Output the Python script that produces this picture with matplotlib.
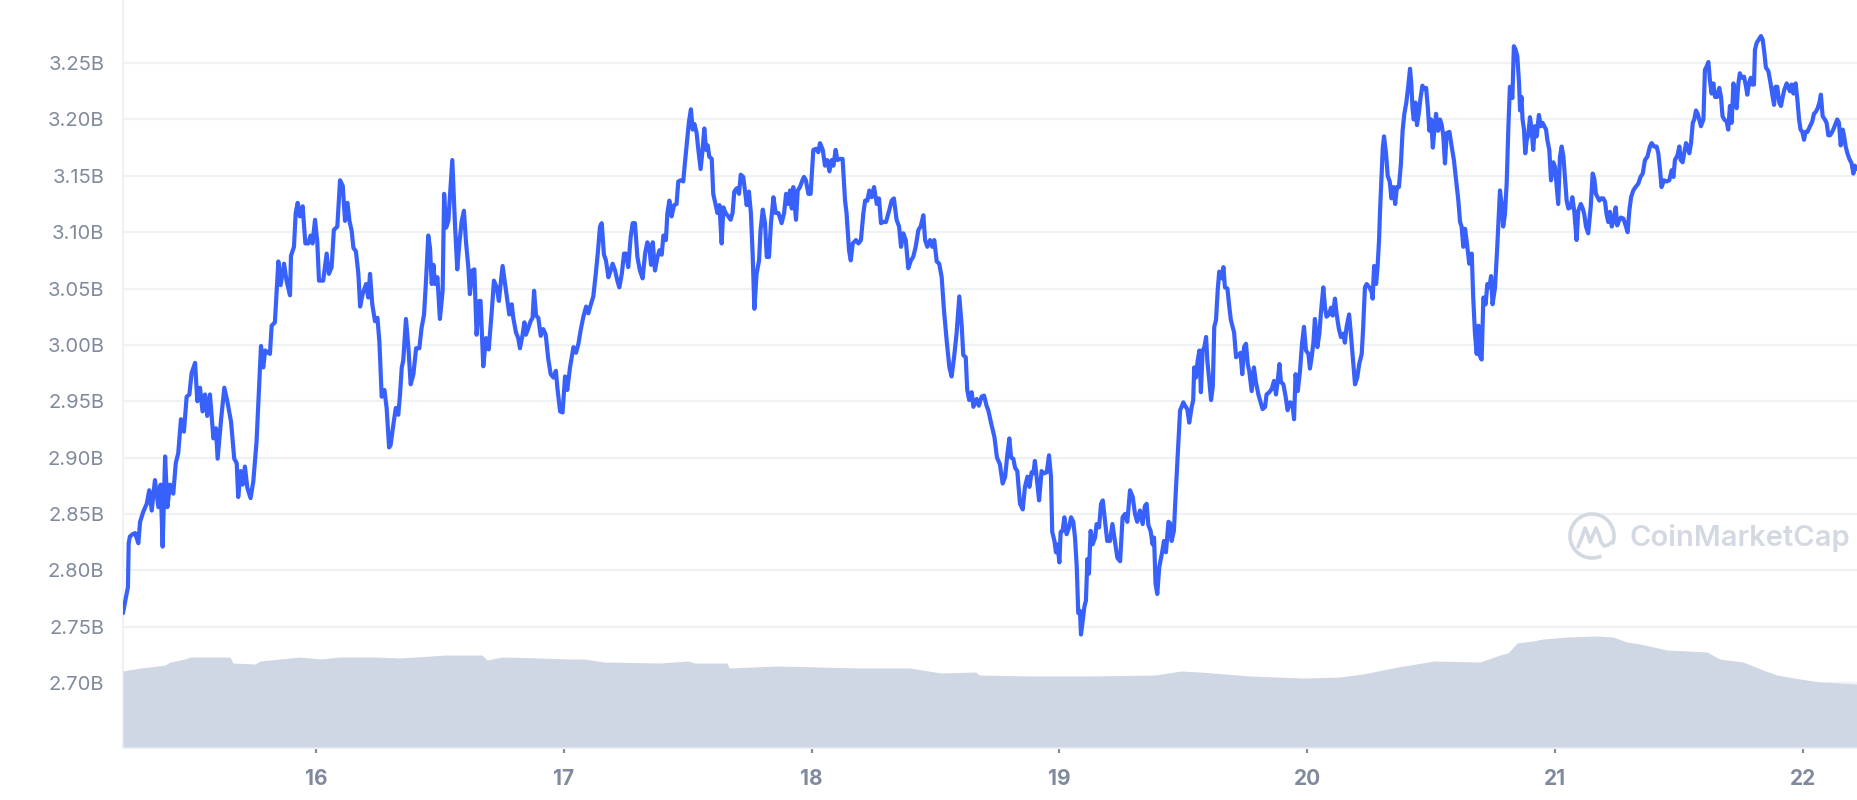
import matplotlib
matplotlib.use("Agg")
import matplotlib.pyplot as plt
from matplotlib.patches import Arc

plt.rcParams['font.family'] = ['Inter', 'DejaVu Sans']

# ---------------- data ----------------
x_ticks = [16, 17, 18, 19, 20, 21, 22]
x_tick_labels = ['16', '17', '18', '19', '20', '21', '22']
y_ticks = [2.70, 2.75, 2.80, 2.85, 2.90, 2.95, 3.00, 3.05, 3.10, 3.15, 3.20, 3.25]
y_tick_labels = ['2.70B', '2.75B', '2.80B', '2.85B', '2.90B', '2.95B',
                 '3.00B', '3.05B', '3.10B', '3.15B', '3.20B', '3.25B']

# market cap (billions USD), (day of month, value)
cap_day15 = [
    (15.221, 2.762), (15.232, 2.775), (15.241, 2.785), (15.244, 2.824), (15.249, 2.830),
    (15.260, 2.832), (15.270, 2.833), (15.283, 2.824), (15.290, 2.843), (15.303, 2.852),
    (15.317, 2.859), (15.327, 2.871), (15.337, 2.853), (15.350, 2.880), (15.364, 2.856),
    (15.373, 2.876), (15.381, 2.821), (15.391, 2.901), (15.400, 2.856), (15.411, 2.876),
    (15.424, 2.868), (15.434, 2.895), (15.444, 2.904), (15.455, 2.934), (15.467, 2.923),
    (15.478, 2.954), (15.489, 2.956), (15.498, 2.975), (15.512, 2.984), (15.521, 2.950),
    (15.532, 2.962), (15.542, 2.941), (15.552, 2.956), (15.561, 2.937), (15.572, 2.956),
    (15.586, 2.917), (15.596, 2.926), (15.603, 2.899), (15.617, 2.934), (15.630, 2.962),
    (15.642, 2.950), (15.657, 2.932), (15.670, 2.899), (15.680, 2.895), (15.686, 2.865),
    (15.696, 2.888), (15.704, 2.876), (15.713, 2.892), (15.723, 2.873), (15.736, 2.864),
    (15.747, 2.879), (15.760, 2.914), (15.774, 2.980), (15.778, 2.999), (15.787, 2.980),
    (15.795, 2.995), (15.814, 2.992), (15.821, 3.017), (15.834, 3.020), (15.848, 3.074),
    (15.857, 3.053), (15.871, 3.072), (15.881, 3.057), (15.895, 3.044), (15.899, 3.079),
    (15.911, 3.087), (15.918, 3.117), (15.926, 3.126), (15.935, 3.114), (15.946, 3.123),
    (15.957, 3.090), (15.969, 3.090), (15.978, 3.097), (15.986, 3.090), (15.996, 3.111),
]
cap_day16 = [
    (16.005, 3.092), (16.012, 3.057), (16.029, 3.057), (16.043, 3.081), (16.052, 3.063),
    (16.063, 3.069), (16.072, 3.102), (16.086, 3.105), (16.097, 3.146), (16.108, 3.141),
    (16.117, 3.110), (16.127, 3.126), (16.135, 3.110), (16.144, 3.101), (16.151, 3.086),
    (16.161, 3.083), (16.171, 3.063), (16.178, 3.034), (16.188, 3.045), (16.202, 3.054),
    (16.211, 3.042), (16.218, 3.063), (16.227, 3.036), (16.238, 3.021), (16.248, 3.024),
    (16.256, 3.002), (16.265, 2.954), (16.276, 2.960), (16.285, 2.944), (16.295, 2.909),
    (16.301, 2.911), (16.312, 2.929), (16.322, 2.944), (16.332, 2.938), (16.339, 2.956),
    (16.346, 2.980), (16.352, 2.986), (16.363, 3.023), (16.373, 2.997), (16.382, 2.965),
    (16.393, 2.974), (16.404, 2.997), (16.417, 2.997), (16.426, 3.015), (16.436, 3.027),
    (16.444, 3.057), (16.453, 3.097), (16.460, 3.086), (16.467, 3.054), (16.474, 3.071),
    (16.480, 3.054), (16.490, 3.060), (16.500, 3.023), (16.511, 3.048), (16.517, 3.134),
    (16.525, 3.104), (16.534, 3.110), (16.541, 3.134), (16.550, 3.164), (16.561, 3.106),
    (16.570, 3.067), (16.578, 3.089), (16.588, 3.110), (16.597, 3.119), (16.605, 3.092),
    (16.615, 3.068), (16.621, 3.045), (16.631, 3.066), (16.639, 3.067), (16.648, 3.009),
    (16.659, 3.039), (16.664, 3.039), (16.675, 2.981), (16.686, 3.006), (16.697, 2.996),
    (16.709, 3.029), (16.718, 3.057), (16.729, 3.051), (16.738, 3.039), (16.745, 3.054),
    (16.753, 3.070), (16.763, 3.054), (16.769, 3.045), (16.780, 3.027), (16.790, 3.036),
    (16.796, 3.024), (16.807, 3.011), (16.816, 3.006), (16.823, 2.997), (16.833, 3.008),
    (16.841, 3.020), (16.847, 3.009), (16.857, 3.015), (16.866, 3.021), (16.874, 3.024),
    (16.880, 3.048), (16.888, 3.026), (16.897, 3.024), (16.907, 3.008), (16.917, 3.014),
    (16.927, 3.009), (16.937, 2.988), (16.947, 2.974), (16.958, 2.971), (16.968, 2.977),
    (16.974, 2.962), (16.985, 2.941), (16.995, 2.940),
]
cap_day17 = [
    (17.005, 2.972), (17.014, 2.960), (17.025, 2.980), (17.039, 2.998), (17.049, 2.993),
    (17.059, 3.001), (17.068, 3.013), (17.079, 3.025), (17.090, 3.034), (17.099, 3.028),
    (17.108, 3.035), (17.119, 3.043), (17.129, 3.063), (17.137, 3.081), (17.146, 3.105),
    (17.153, 3.108), (17.162, 3.080), (17.170, 3.075), (17.180, 3.060), (17.189, 3.066),
    (17.197, 3.072), (17.207, 3.066), (17.216, 3.057), (17.224, 3.051), (17.234, 3.063),
    (17.243, 3.081), (17.251, 3.081), (17.260, 3.069), (17.270, 3.096), (17.278, 3.108),
    (17.287, 3.108), (17.297, 3.078), (17.307, 3.066), (17.318, 3.059), (17.328, 3.081),
    (17.337, 3.091), (17.345, 3.087), (17.352, 3.071), (17.359, 3.091), (17.368, 3.066),
    (17.377, 3.077), (17.386, 3.084), (17.395, 3.080), (17.402, 3.097), (17.412, 3.093),
    (17.418, 3.117), (17.426, 3.128), (17.435, 3.114), (17.445, 3.124), (17.455, 3.125),
    (17.462, 3.145), (17.472, 3.146), (17.482, 3.145), (17.489, 3.162), (17.498, 3.182),
    (17.505, 3.198), (17.513, 3.209), (17.520, 3.191), (17.527, 3.196), (17.536, 3.188),
    (17.543, 3.173), (17.552, 3.156), (17.560, 3.173), (17.567, 3.192), (17.574, 3.173),
    (17.581, 3.177), (17.587, 3.167), (17.597, 3.165), (17.603, 3.134), (17.610, 3.127),
    (17.620, 3.117), (17.628, 3.124), (17.637, 3.090), (17.644, 3.122), (17.653, 3.117),
    (17.664, 3.114), (17.673, 3.111), (17.681, 3.117), (17.688, 3.136), (17.698, 3.139),
    (17.707, 3.134), (17.714, 3.151), (17.724, 3.149), (17.731, 3.137), (17.738, 3.124),
    (17.747, 3.136), (17.755, 3.117), (17.762, 3.081), (17.769, 3.032), (17.778, 3.063),
    (17.788, 3.075), (17.794, 3.102), (17.803, 3.120), (17.812, 3.108), (17.819, 3.078),
    (17.828, 3.078), (17.836, 3.108), (17.846, 3.131), (17.855, 3.117), (17.866, 3.117),
    (17.879, 3.108), (17.889, 3.117), (17.897, 3.134), (17.906, 3.125), (17.913, 3.137),
    (17.920, 3.121), (17.926, 3.140), (17.937, 3.111), (17.944, 3.137), (17.953, 3.140),
    (17.963, 3.146), (17.969, 3.149), (17.977, 3.146), (17.987, 3.134), (17.996, 3.134),
]
cap_day18 = [
    (18.007, 3.173), (18.018, 3.174), (18.027, 3.171), (18.034, 3.179), (18.045, 3.173),
    (18.054, 3.159), (18.063, 3.164), (18.072, 3.154), (18.081, 3.164), (18.088, 3.159),
    (18.097, 3.173), (18.104, 3.164), (18.115, 3.165), (18.125, 3.165), (18.135, 3.128),
    (18.141, 3.117), (18.151, 3.084), (18.158, 3.075), (18.166, 3.090), (18.179, 3.093),
    (18.189, 3.090), (18.199, 3.093), (18.209, 3.117), (18.216, 3.128), (18.225, 3.128),
    (18.233, 3.137), (18.242, 3.131), (18.252, 3.140), (18.263, 3.125), (18.272, 3.130),
    (18.280, 3.108), (18.289, 3.109), (18.300, 3.109), (18.314, 3.120), (18.323, 3.128),
    (18.332, 3.130), (18.343, 3.111), (18.353, 3.105), (18.361, 3.087), (18.370, 3.099),
    (18.380, 3.093), (18.390, 3.068), (18.401, 3.075), (18.410, 3.078), (18.420, 3.087),
    (18.431, 3.102), (18.440, 3.105), (18.451, 3.115), (18.458, 3.093), (18.467, 3.087),
    (18.478, 3.093), (18.487, 3.087), (18.495, 3.093), (18.505, 3.074), (18.515, 3.072),
    (18.525, 3.060), (18.534, 3.031), (18.545, 3.004), (18.556, 2.980), (18.565, 2.972),
    (18.575, 2.989), (18.585, 3.010), (18.596, 3.043), (18.606, 3.016), (18.612, 2.991),
    (18.622, 2.989), (18.628, 2.960), (18.636, 2.951), (18.646, 2.958), (18.653, 2.945),
    (18.666, 2.952), (18.675, 2.946), (18.686, 2.954), (18.696, 2.955), (18.706, 2.946),
    (18.713, 2.942), (18.725, 2.930), (18.738, 2.918), (18.748, 2.900), (18.760, 2.894),
    (18.771, 2.877), (18.781, 2.883), (18.790, 2.903), (18.798, 2.917), (18.805, 2.900),
    (18.814, 2.899), (18.821, 2.891), (18.830, 2.888), (18.841, 2.859), (18.852, 2.854),
    (18.861, 2.874), (18.871, 2.883), (18.879, 2.874), (18.888, 2.887), (18.895, 2.886),
    (18.901, 2.897), (18.911, 2.877), (18.918, 2.862), (18.928, 2.888), (18.938, 2.886),
    (18.949, 2.887), (18.958, 2.902), (18.966, 2.883), (18.971, 2.834), (18.980, 2.826),
    (18.986, 2.816), (18.992, 2.823),
]
cap_day19 = [
    (19.000, 2.807), (19.005, 2.834), (19.013, 2.835), (19.020, 2.847), (19.029, 2.832),
    (19.039, 2.838), (19.047, 2.847), (19.056, 2.843), (19.063, 2.829), (19.070, 2.803),
    (19.076, 2.762), (19.083, 2.764), (19.087, 2.743), (19.094, 2.755), (19.101, 2.768),
    (19.107, 2.773), (19.113, 2.810), (19.119, 2.797), (19.126, 2.835), (19.134, 2.823),
    (19.144, 2.829), (19.150, 2.841), (19.160, 2.838), (19.168, 2.859), (19.175, 2.862),
    (19.184, 2.844), (19.193, 2.826), (19.204, 2.826), (19.214, 2.841), (19.224, 2.826),
    (19.234, 2.811), (19.245, 2.808), (19.255, 2.847), (19.265, 2.850), (19.274, 2.843),
    (19.285, 2.871), (19.296, 2.865), (19.305, 2.850), (19.314, 2.843), (19.325, 2.853),
    (19.336, 2.841), (19.345, 2.857), (19.352, 2.859), (19.359, 2.840), (19.368, 2.835),
    (19.376, 2.823), (19.382, 2.829), (19.388, 2.788), (19.395, 2.779), (19.403, 2.803),
    (19.413, 2.814), (19.422, 2.826), (19.430, 2.816), (19.440, 2.843), (19.446, 2.842),
    (19.453, 2.826), (19.462, 2.835), (19.470, 2.871), (19.480, 2.912), (19.487, 2.942),
    (19.493, 2.945), (19.500, 2.949), (19.507, 2.946), (19.516, 2.943), (19.524, 2.931),
    (19.534, 2.945), (19.540, 2.951), (19.544, 2.980), (19.551, 2.971), (19.558, 2.986),
    (19.565, 2.995), (19.571, 2.958), (19.578, 2.995), (19.585, 2.998), (19.592, 3.007),
    (19.597, 2.986), (19.605, 2.968), (19.612, 2.951), (19.619, 2.963), (19.625, 3.016),
    (19.632, 3.022), (19.639, 3.049), (19.645, 3.065), (19.655, 3.059), (19.662, 3.069),
    (19.668, 3.051), (19.678, 3.050), (19.686, 3.033), (19.692, 3.022), (19.705, 3.011),
    (19.713, 2.989), (19.722, 2.991), (19.731, 2.993), (19.738, 2.974), (19.745, 2.998),
    (19.753, 3.001), (19.760, 2.983), (19.766, 2.977), (19.776, 2.959), (19.785, 2.980),
    (19.793, 2.967), (19.803, 2.956), (19.812, 2.949), (19.820, 2.943), (19.830, 2.945),
    (19.836, 2.956), (19.847, 2.958), (19.857, 2.961), (19.866, 2.968), (19.874, 2.956),
    (19.881, 2.968), (19.888, 2.983), (19.894, 2.967), (19.904, 2.965), (19.913, 2.954),
    (19.921, 2.942), (19.931, 2.949), (19.940, 2.948), (19.947, 2.934), (19.953, 2.974),
    (19.962, 2.959), (19.971, 2.977), (19.979, 3.001), (19.987, 3.016), (19.995, 2.995),
]
cap_day20 = [
    (20.005, 2.992), (20.011, 2.979), (20.018, 2.989), (20.025, 3.002), (20.031, 3.023),
    (20.041, 2.998), (20.049, 3.010), (20.056, 3.030), (20.065, 3.051), (20.072, 3.033),
    (20.078, 3.025), (20.088, 3.027), (20.096, 3.033), (20.103, 3.026), (20.112, 3.041),
    (20.119, 3.027), (20.128, 3.014), (20.136, 3.007), (20.146, 3.010), (20.152, 3.002),
    (20.159, 3.016), (20.169, 3.027), (20.175, 3.013), (20.183, 2.992), (20.193, 2.965),
    (20.202, 2.971), (20.210, 2.983), (20.220, 2.992), (20.226, 3.016), (20.233, 3.051),
    (20.240, 3.054), (20.251, 3.051), (20.260, 3.047), (20.264, 3.041), (20.270, 3.070),
    (20.278, 3.054), (20.284, 3.069), (20.290, 3.093), (20.294, 3.119), (20.300, 3.150),
    (20.305, 3.175), (20.310, 3.185), (20.318, 3.170), (20.325, 3.150), (20.333, 3.145),
    (20.340, 3.130), (20.348, 3.140), (20.355, 3.125), (20.362, 3.140), (20.370, 3.140),
    (20.378, 3.160), (20.385, 3.190), (20.392, 3.205), (20.400, 3.215), (20.408, 3.230),
    (20.415, 3.245), (20.420, 3.232), (20.425, 3.210), (20.430, 3.200), (20.437, 3.215),
    (20.443, 3.195), (20.450, 3.205), (20.458, 3.220), (20.465, 3.230), (20.472, 3.227),
    (20.480, 3.228), (20.487, 3.210), (20.493, 3.190), (20.500, 3.200), (20.507, 3.175),
    (20.513, 3.190), (20.520, 3.205), (20.528, 3.190), (20.536, 3.200), (20.543, 3.195),
    (20.549, 3.186), (20.556, 3.161), (20.563, 3.188), (20.574, 3.189), (20.583, 3.176),
    (20.592, 3.164), (20.600, 3.148), (20.610, 3.128), (20.617, 3.109), (20.623, 3.105),
    (20.630, 3.087), (20.637, 3.103), (20.643, 3.093), (20.654, 3.072), (20.664, 3.081),
    (20.670, 3.042), (20.677, 3.010), (20.684, 2.992), (20.691, 3.017), (20.697, 2.990),
    (20.704, 2.987), (20.711, 3.042), (20.720, 3.036), (20.727, 3.054), (20.735, 3.051),
    (20.742, 3.061), (20.748, 3.036), (20.758, 3.051), (20.767, 3.087), (20.771, 3.105),
    (20.778, 3.137), (20.785, 3.124), (20.791, 3.105), (20.798, 3.116), (20.805, 3.143),
    (20.812, 3.194), (20.818, 3.229), (20.828, 3.219), (20.834, 3.265), (20.841, 3.262),
    (20.848, 3.256), (20.855, 3.232), (20.859, 3.208), (20.865, 3.220), (20.869, 3.200),
    (20.875, 3.191), (20.880, 3.170), (20.886, 3.182), (20.892, 3.186), (20.899, 3.202),
    (20.906, 3.191), (20.912, 3.173), (20.919, 3.194), (20.926, 3.185), (20.935, 3.204),
    (20.943, 3.194), (20.950, 3.197), (20.957, 3.194), (20.964, 3.191), (20.969, 3.182),
    (20.977, 3.173), (20.984, 3.146), (20.993, 3.162),
]
cap_day21 = [
    (21.000, 3.158), (21.007, 3.140), (21.013, 3.125), (21.020, 3.167), (21.027, 3.176),
    (21.034, 3.167), (21.040, 3.149), (21.047, 3.128), (21.054, 3.121), (21.063, 3.122),
    (21.070, 3.131), (21.078, 3.118), (21.087, 3.093), (21.094, 3.119), (21.104, 3.125),
    (21.112, 3.121), (21.118, 3.116), (21.125, 3.105), (21.134, 3.099), (21.144, 3.122),
    (21.152, 3.152), (21.159, 3.147), (21.165, 3.134), (21.172, 3.131), (21.179, 3.128),
    (21.186, 3.130), (21.195, 3.130), (21.202, 3.127), (21.208, 3.116), (21.215, 3.109),
    (21.222, 3.118), (21.229, 3.105), (21.235, 3.109), (21.245, 3.122), (21.251, 3.106),
    (21.258, 3.110), (21.266, 3.113), (21.276, 3.112), (21.285, 3.106), (21.293, 3.100),
    (21.300, 3.119), (21.307, 3.131), (21.316, 3.137), (21.325, 3.140), (21.336, 3.143),
    (21.345, 3.149), (21.354, 3.152), (21.363, 3.164), (21.373, 3.167), (21.383, 3.176),
    (21.390, 3.179), (21.400, 3.176), (21.410, 3.176), (21.417, 3.170), (21.424, 3.155),
    (21.430, 3.140), (21.440, 3.146), (21.451, 3.145), (21.461, 3.146), (21.471, 3.155),
    (21.478, 3.149), (21.484, 3.164), (21.494, 3.168), (21.502, 3.176), (21.507, 3.164),
    (21.515, 3.162), (21.522, 3.171), (21.529, 3.179), (21.535, 3.176), (21.542, 3.170),
    (21.549, 3.179), (21.556, 3.197), (21.562, 3.200), (21.569, 3.208), (21.576, 3.205),
    (21.582, 3.200), (21.589, 3.194), (21.599, 3.200), (21.605, 3.244), (21.612, 3.247),
    (21.619, 3.251), (21.625, 3.235), (21.632, 3.223), (21.639, 3.232), (21.646, 3.220),
    (21.655, 3.220), (21.663, 3.228), (21.670, 3.220), (21.676, 3.203), (21.683, 3.200),
    (21.693, 3.198), (21.699, 3.191), (21.706, 3.212), (21.713, 3.197), (21.720, 3.232),
    (21.726, 3.225), (21.733, 3.210), (21.740, 3.232), (21.746, 3.241), (21.753, 3.237),
    (21.763, 3.238), (21.771, 3.229), (21.776, 3.222), (21.783, 3.232), (21.790, 3.237),
    (21.796, 3.231), (21.803, 3.231), (21.807, 3.262), (21.814, 3.268), (21.825, 3.272),
    (21.831, 3.274), (21.838, 3.271), (21.845, 3.259), (21.851, 3.246), (21.861, 3.243),
    (21.870, 3.232), (21.877, 3.222), (21.884, 3.213), (21.890, 3.229), (21.897, 3.229),
    (21.905, 3.215), (21.912, 3.212), (21.919, 3.220), (21.925, 3.226), (21.935, 3.232),
    (21.941, 3.229), (21.948, 3.225), (21.955, 3.231), (21.962, 3.223), (21.971, 3.232),
    (21.978, 3.218), (21.985, 3.200), (21.991, 3.191), (21.998, 3.189),
]
cap_day22 = [
    (22.005, 3.182), (22.011, 3.189), (22.019, 3.189), (22.029, 3.194), (22.038, 3.198),
    (22.045, 3.205), (22.053, 3.207), (22.060, 3.210), (22.067, 3.215), (22.073, 3.222),
    (22.080, 3.203), (22.089, 3.200), (22.096, 3.197), (22.103, 3.186), (22.110, 3.186),
    (22.116, 3.188), (22.123, 3.191), (22.130, 3.195), (22.139, 3.200), (22.146, 3.197),
    (22.153, 3.177), (22.161, 3.191), (22.166, 3.186), (22.173, 3.176), (22.180, 3.170),
    (22.188, 3.165), (22.197, 3.161), (22.204, 3.152), (22.210, 3.159), (22.217, 3.156),
]

# 24h volume (relative scale), (day of month, value)
volume_series = [
    (15.221, 0.76), (15.290, 0.79), (15.330, 0.80), (15.391, 0.82), (15.411, 0.85),
    (15.471, 0.88), (15.492, 0.90), (15.653, 0.90), (15.665, 0.84), (15.754, 0.83),
    (15.774, 0.86), (15.895, 0.89), (15.935, 0.90), (16.016, 0.88), (16.097, 0.90),
    (16.238, 0.90), (16.339, 0.89), (16.525, 0.92), (16.670, 0.92), (16.690, 0.87),
    (16.751, 0.90), (16.900, 0.89), (17.017, 0.88), (17.082, 0.88), (17.162, 0.85),
    (17.388, 0.84), (17.500, 0.86), (17.530, 0.84), (17.659, 0.84), (17.667, 0.79),
    (17.864, 0.81), (18.195, 0.79), (18.397, 0.79), (18.522, 0.74), (18.663, 0.75),
    (18.676, 0.72), (18.881, 0.71), (19.119, 0.71), (19.386, 0.72), (19.491, 0.76),
    (19.567, 0.75), (19.769, 0.71), (19.987, 0.69), (20.132, 0.70), (20.225, 0.73),
    (20.366, 0.80), (20.512, 0.86), (20.697, 0.85), (20.778, 0.92), (20.810, 0.94),
    (20.847, 1.04), (20.911, 1.06), (20.952, 1.08), (21.048, 1.10), (21.169, 1.11),
    (21.234, 1.10), (21.290, 1.05), (21.343, 1.03), (21.452, 0.97), (21.613, 0.95),
    (21.666, 0.88), (21.759, 0.85), (21.839, 0.77), (21.896, 0.72), (21.989, 0.68),
    (22.069, 0.65), (22.222, 0.63),
]

# ---------------- style ----------------
LINE = '#3861FB'
VOL = '#CFD6E4'
GRID = '#EFF2F5'
TXT = '#808A9D'
WM = '#D3D9E3'

cap_all = cap_day15 + cap_day16 + cap_day17 + cap_day18 + cap_day19 + cap_day20 + cap_day21 + cap_day22
cap_days = [p[0] for p in cap_all]
cap_vals = [p[1] for p in cap_all]
vol_days = [p[0] for p in volume_series]
vol_vals = [p[1] for p in volume_series]

W, H = 1858, 800
fig = plt.figure(figsize=(W / 100, H / 100), dpi=100)
fig.patch.set_facecolor('white')
pos = [123 / W, 53 / H, (W - 123) / W, 747 / H]

ax = fig.add_axes(pos)
axv = fig.add_axes(pos, sharex=ax)
axl = fig.add_axes(pos, sharex=ax, sharey=ax)
for a in (axv, axl):
    a.patch.set_visible(False)

# volume
axv.fill_between(vol_days, 0, vol_vals, color=VOL, lw=0)
axv.set_ylim(0, 7.47)
axv.set_axis_off()

# price line
axl.plot(cap_days, cap_vals, color=LINE, lw=3.0, solid_joinstyle='round', solid_capstyle='round')
axl.set_axis_off()

# main axes styling
ax.set_xlim(15.2211, 22.2228)
ax.set_ylim(2.6432, 3.306)
ax.set_yticks(y_ticks, y_tick_labels)
ax.set_xticks(x_ticks, x_tick_labels)
ax.grid(axis='y', color=GRID, lw=1.6)
ax.set_axisbelow(True)
ax.tick_params(axis='y', length=0, pad=13.5, labelsize=14.5, labelcolor=TXT)
ax.tick_params(axis='x', length=4.5, width=1.6, color=TXT, pad=11, labelsize=15, labelcolor=TXT)
for lab in ax.get_xticklabels():
    lab.set_fontweight('bold')
for s in ('top', 'right'):
    ax.spines[s].set_visible(False)
ax.spines['left'].set_color(GRID)
ax.spines['left'].set_linewidth(1.6)
ax.spines['bottom'].set_color(GRID)
ax.spines['bottom'].set_linewidth(2.4)

# watermark (pixel coordinates overlay)
axw = fig.add_axes([0, 0, 1, 1])
axw.set_xlim(0, W)
axw.set_ylim(H, 0)
axw.set_axis_off()
axw.patch.set_visible(False)
cx, cy, r = 1592, 536, 22
axw.add_patch(Arc((cx, cy), 2 * r, 2 * r, theta1=65, theta2=382, color=WM, lw=2.6))
wave = [(-14, 11), (-10, 1), (-7, -8), (-4, -1), (-2, 6), (1, -1), (4, -8), (7, -1),
        (9, 6), (12, 10), (16, 9), (20, 6)]
axw.plot([cx + p[0] for p in wave], [cy + p[1] for p in wave], color=WM, lw=2.6,
         solid_joinstyle='round', solid_capstyle='round')
axw.text(1630, 538, 'CoinMarketCap', fontsize=21, color=WM, va='center', ha='left',
         fontweight='semibold')

fig.savefig('out.png', dpi=100, facecolor='white')
